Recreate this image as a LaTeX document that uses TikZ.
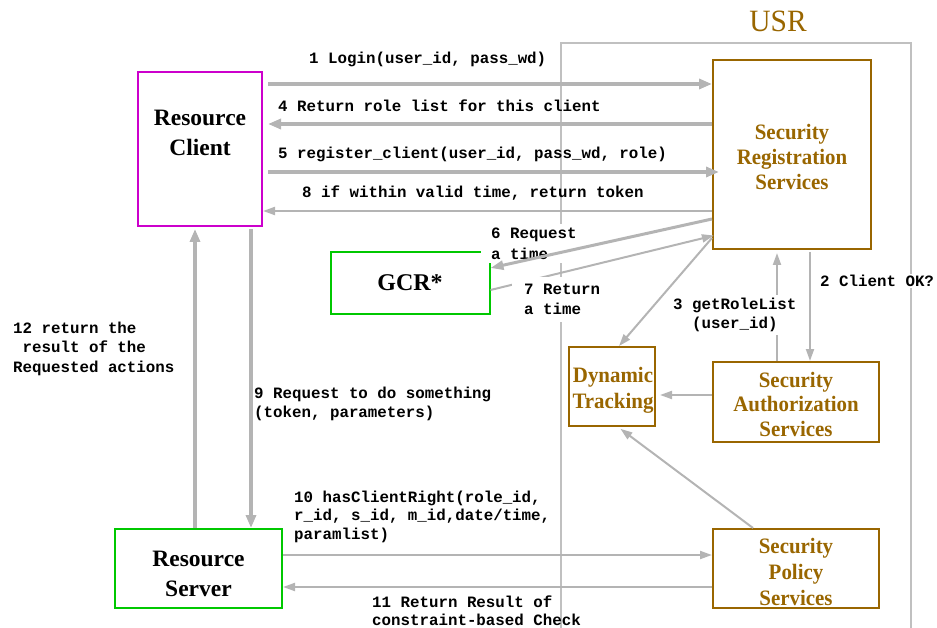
\documentclass[tikz,border=0pt]{standalone}
\usepackage{fontspec}
\setmainfont{Liberation Serif}
\newfontfamily\monof{Liberation Mono}
\newfontfamily\brfont[FakeStretch=0.95]{Liberation Serif}
\usetikzlibrary{arrows.meta,calc}
\definecolor{lg}{RGB}{180,180,180}
\definecolor{usrline}{RGB}{192,192,192}
\definecolor{brn}{RGB}{153,102,0}
\definecolor{mag}{RGB}{204,0,204}
\definecolor{grn}{RGB}{0,200,0}
\begin{document}
\begin{tikzpicture}[x=1pt,y=-1pt,
  box/.style={draw, line width=2pt, inner sep=0pt, align=center},
  brbox/.style={box, draw=brn},
  brtext/.style={text=brn, align=center, inner sep=0pt, font=\brfont\bfseries\fontsize{22}{25}\selectfont},
  boxtext/.style={align=center, inner sep=0pt, font=\fontsize{23.5}{30}\selectfont\bfseries},
  lbl/.style={font=\monof\bfseries\fontsize{15.8}{19.5}\selectfont, align=left, inner sep=0pt, anchor=west},
  wbg/.style={fill=white},
  arrowA/.style={draw=lg, line width=4pt, -{Triangle[length=13pt,width=10pt]}},
  arrowB/.style={draw=lg, line width=3pt, -{Triangle[length=13pt,width=9pt]}},
  arrowC/.style={draw=lg, line width=2pt, -{Triangle[length=12pt,width=8pt]}},
]
\useasboundingbox (0,0) rectangle (937,628);
% USR frame
\draw[usrline, line width=2pt] (561,640) -- (561,43) -- (911,43) -- (911,640);
\node[text=brn, font=\brfont\fontsize{31}{31}\selectfont, inner sep=0pt] (usr) at (778,21) {USR};

% boxes
\node[box, draw=mag, minimum width=124pt, minimum height=154pt] (rc) at (200,149) {};
\node[boxtext] (rct) at (200,133) {Resource\\Client};
\node[brbox, minimum width=158pt, minimum height=189pt] (srs) at (792,154.5) {};
\node[brtext] (srst) at (792,156.5) {Security\\Registration\\Services};
\node[box, draw=grn, minimum width=159pt, minimum height=62pt, font=\fontsize{24}{28}\selectfont\bfseries] (gcr) at (410,283) {GCR*};
\node[brbox, minimum width=86pt, minimum height=79pt] (dt) at (612,386.5) {};
\node[brtext, font=\brfont\bfseries\fontsize{22}{26}\selectfont] (dtt) at (613,390) {Dynamic\\Tracking};
\node[brbox, minimum width=166pt, minimum height=80pt] (sas) at (796,402) {};
\node[brtext, font=\brfont\bfseries\fontsize{22}{24.5}\selectfont] (sast) at (796,404) {Security\\Authorization\\Services};
\node[brbox, minimum width=166pt, minimum height=79pt] (sps) at (796,568.5) {};
\node[brtext, font=\brfont\bfseries\fontsize{22}{26}\selectfont] (spst) at (796,571.5) {Security\\Policy\\Services};
\node[box, draw=grn, minimum width=167pt, minimum height=79pt] (rs) at (198.5,568.5) {};
\node[boxtext] (rst) at (198.5,574) {Resource\\Server};

% label over GCR corner
\node[lbl, wbg, inner xsep=10pt, inner ysep=4pt, font=\monof\bfseries\fontsize{15.8}{21}\selectfont] (l6) at (481,243.5) {6 Request\\a time};

% arrows
\draw[arrowA, shorten <=5pt] (rc.east |- 0,84) -- (srs.west |- 0,84);
\draw[arrowA, shorten >=5pt] (srs.west |- 0,124) -- (rc.east |- 0,124);
\draw[arrowA, shorten <=5pt, shorten >=-7pt] (rc.east |- 0,172) -- (srs.west |- 0,172);
\draw[arrowC] (srs.west |- 0,211) -- (rc.east |- 0,211);
\draw[arrowB] (srs.west |- 0,219) -- (gcr.east |- 0,268);
\draw[arrowC, shorten >=-2pt] (gcr.east |- 0,290) -- (srs.west |- 0,236);
\draw[arrowC] (srs.west |- 0,238) -- (dt.north -| 619,0);
\draw[arrowC, shorten <=2pt] (srs.south -| 810,0) -- (sas.north -| 810,0);
\draw[arrowC, shorten >=3pt] (sas.north -| 777,0) -- (srs.south -| 777,0);
\draw[arrowC, shorten >=4pt] (sas.west |- 0,395) -- (dt.east |- 0,395);
\draw[arrowC, shorten >=3pt] (sps.north -| 753,0) -- (dt.south -| 618,0);
\draw[arrowA, shorten <=2pt] (rc.south -| 251,0) -- (rs.north -| 251,0);
\draw[arrowA, shorten >=2pt] (rs.north -| 195,0) -- (rc.south -| 195,0);
\draw[arrowC] (rs.east |- 0,555) -- (sps.west |- 0,555);
\draw[arrowC] (sps.west |- 0,587) -- (rs.east |- 0,587);

% labels
\node[lbl] (l1) at (309,59) {1 Login(user\_id, pass\_wd)};
\node[lbl] (l4) at (278,106) {4 Return role list for this client};
\node[lbl] (l5) at (278,154) {5 register\_client(user\_id, pass\_wd, role)};
\node[lbl] (l8) at (302,193) {8 if within valid time, return token};
\node[lbl, wbg, inner xsep=12pt, inner ysep=7pt] (l7) at (512,299.5) {7 Return\\a time};
\node[lbl, wbg, inner xsep=1pt, inner ysep=1pt] (l2) at (819,281) {2 Client OK?};
\node[lbl, wbg, align=center, inner xsep=2pt, inner ysep=3pt] (l3) at (671,315) {3 getRoleList\\(user\_id)};
\node[lbl] (l12) at (13,348.5) {12 return the\\\phantom{x}result of the\\Requested actions};
\node[lbl] (l9) at (254,404) {9 Request to do something\\(token, parameters)};
\node[lbl, wbg, inner xsep=10pt, inner ysep=8pt, font=\monof\bfseries\fontsize{15.8}{18.5}\selectfont] (l10) at (284,516.5) {10 hasClientRight(role\_id,\\r\_id, s\_id, m\_id,date/time,\\paramlist)};
\node[lbl, font=\monof\bfseries\fontsize{15.8}{18}\selectfont] (l11) at (372,611) {11 Return Result of\\constraint-based Check};
\end{tikzpicture}
\end{document}
